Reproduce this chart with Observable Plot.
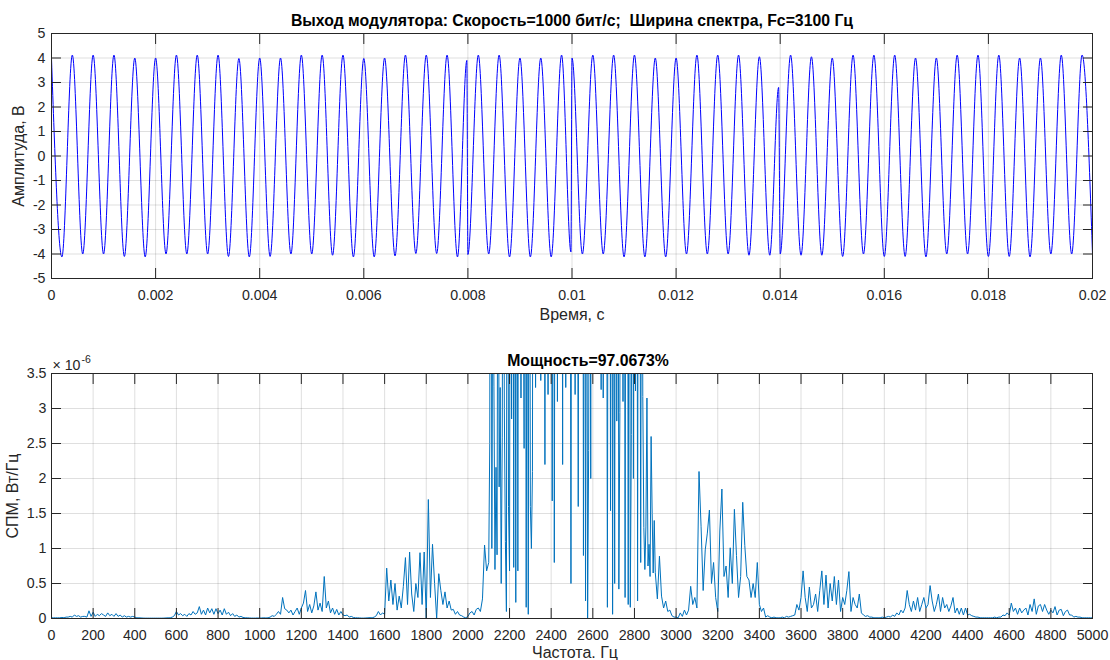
<!DOCTYPE html>
<html>
<head>
<meta charset="utf-8">
<script src="https://cdn.jsdelivr.net/npm/d3@7"></script>
<script src="https://cdn.jsdelivr.net/npm/@observablehq/plot@0.6"></script>
<style>
  html, body { margin: 0; padding: 0; background: #fff; }
  #chart { width: 1110px; height: 660px; background: #fff; }
  #chart svg { display: block; }
</style>
</head>
<body>
<div id="chart"></div>
<script>
// ---------- Texts ----------
const topTitle = "Выход модулятора: Скорость=1000 бит/с;\u00a0 Ширина спектра, Fc=3100 Гц";
const topXLabel = "Время, с";
const topYLabel = "Амплитуда, В";
const bottomTitle = "Мощность=97.0673%";
const bottomXLabel = "Частота. Гц";
const bottomYLabel = "СПМ, Вт/Гц";
const expBase = "\u00d7 10";
const expPower = "-6";

// ---------- Tick labels ----------
const timeTicks = [0, 0.002, 0.004, 0.006, 0.008, 0.01, 0.012, 0.014, 0.016, 0.018, 0.02];
const ampTicks = [-5, -4, -3, -2, -1, 0, 1, 2, 3, 4, 5];
const freqTicks = [0, 200, 400, 600, 800, 1000, 1200, 1400, 1600, 1800, 2000, 2200, 2400, 2600,
  2800, 3000, 3200, 3400, 3600, 3800, 4000, 4200, 4400, 4600, 4800, 5000];
const psdTicks = [0, 0.5, 1, 1.5, 2, 2.5, 3, 3.5];

// ---------- Modulator output: extrema (time, s / amplitude, V) ----------
const sigTime = [
  0, 0.0002, 0.0004, 0.0006, 0.0008, 0.001, 0.0012, 0.0014, 0.0016, 0.0018,
  0.002, 0.0022, 0.0024, 0.0026, 0.0028, 0.003, 0.0032, 0.0034, 0.0036, 0.0038,
  0.004, 0.0042, 0.0044, 0.0046, 0.0048, 0.005, 0.0052, 0.0054, 0.0056, 0.0058,
  0.006, 0.0062, 0.0064, 0.0066, 0.0068, 0.007, 0.0072, 0.0074, 0.0076, 0.0078,
  0.00798, 0.008, 0.0082, 0.0084, 0.0086, 0.0088, 0.009, 0.0092, 0.0094, 0.0096, 0.0098,
  0.00998, 0.01, 0.0102, 0.0104, 0.0106, 0.0108, 0.011, 0.0112, 0.0114, 0.0116, 0.0118,
  0.012, 0.0122, 0.0124, 0.0126, 0.0128, 0.013, 0.0132, 0.0134, 0.0136, 0.0138,
  0.01397, 0.014, 0.0142, 0.0144, 0.0146, 0.0148, 0.015, 0.0152, 0.0154, 0.0156, 0.0158,
  0.016, 0.0162, 0.0164, 0.0166, 0.0168, 0.017, 0.0172, 0.0174, 0.0176, 0.0178,
  0.018, 0.0182, 0.0184, 0.0186, 0.0188, 0.019, 0.0192, 0.0194, 0.0196, 0.0198, 0.02
];
const sigVolt = [
  3.97, -4.12, 4.12, -4.0, 4.12, -4.0, 4.12, -4.1, 4.0, -4.12,
  4.0, -4.0, 4.12, -4.0, 4.12, -4.0, 4.12, -4.1, 3.98, -4.12,
  4.0, -4.1, 4.0, -4.0, 4.12, -4.0, 4.12, -4.05, 4.12, -4.12,
  3.98, -4.12, 4.0, -4.08, 4.12, -3.98, 4.12, -3.98, 4.12, -4.12,
  3.9, -4.02, 4.12, -4.0, 4.12, -4.12, 4.0, -4.12, 4.0, -4.12, 4.12,
  -3.92, 4.0, -4.0, 4.12, -4.0, 4.12, -4.12, 4.12, -4.12, 4.0, -4.12,
  4.0, -4.0, 4.12, -4.0, 4.12, -4.0, 4.12, -4.05, 4.05, -4.05,
  2.8, -4.0, 4.12, -4.05, 4.05, -4.05, 4.0, -4.1, 4.12, -4.0, 4.12,
  -4.1, 4.12, -4.1, 4.0, -4.12, 4.0, -4.0, 4.12, -4.0, 4.12,
  -4.1, 4.12, -4.1, 4.0, -4.12, 4.0, -4.0, 4.12, -4.0, 4.12, -4.0
];

// ---------- PSD (x 1e-6 W/Hz) ----------
// 0 ... 2090 Hz, 10 Hz bins
const psdLowStart = 0, psdLowStep = 10;
const psdLow = [
  0.01,0.01,0.01,0.01,0.01,0.015,0.01,0.02,0.02,0.03,0.02,0.05,0.03,0.04,0.02,0.03,0.03,0.02,0.11,0.03,
  0.09,0.03,0.06,0.04,0.07,0.05,0.03,0.08,0.04,0.06,0.03,0.07,0.03,0.05,0.02,0.04,0.02,0.03,0.02,0.03,
  0.02,0.01,0.01,0.008,0.006,0.005,0.005,0.005,0.005,0.005,0.005,0.005,0.005,0.005,0.006,0.008,0.01,0.01,0.02,0.04,
  0.1,0.05,0.07,0.04,0.06,0.03,0.07,0.05,0.1,0.06,0.08,0.17,0.06,0.12,0.05,0.15,0.08,0.14,0.06,0.14,
  0.07,0.12,0.05,0.14,0.06,0.09,0.04,0.07,0.03,0.05,0.02,0.03,0.015,0.01,0.01,0.008,0.006,0.006,0.006,0.008,
  0.006,0.008,0.01,0.008,0.01,0.02,0.04,0.03,0.06,0.1,0.06,0.3,0.14,0.12,0.08,0.12,0.05,0.1,0.15,0.06,
  0.15,0.22,0.4,0.1,0.2,0.08,0.18,0.38,0.12,0.22,0.1,0.6,0.15,0.25,0.08,0.15,0.06,0.13,0.05,0.1,
  0.05,0.04,0.05,0.02,0.03,0.015,0.01,0.01,0.008,0.006,0.006,0.008,0.01,0.012,0.01,0.02,0.04,0.1,0.05,0.08,
  0.06,0.72,0.25,0.55,0.2,0.5,0.12,0.32,0.15,0.46,0.87,0.2,0.95,0.35,0.1,0.5,0.3,0.94,0.2,0.95,
  0.0,1.7,0.3,1.06,0.5,0.0,0.64,0.4,0.2,0.38,0.15,0.25,0.12,0.13,0.06,0.1,0.05,0.04,0.02,0.01,
  0.03,0.08,0.1,0.05,0.13,0.15,0.1,0.28,1.05,0.68
];
// 2100 ... 2900 Hz main lobe, 5 Hz bins (values above 3.5 are cut by the axes)
const psdLobeStart = 2100, psdLobeStep = 5;
const psdLobe = [
  0.8,2.5,15,1.0,6,3.32,0.7,2.16,0.91,8,1.88,3.3,0.5,2.58,9,3.0,1.1,0.1,12,1.6,
  0.68,10,2.85,12,0.73,9,0.23,11,0.68,14,7,3.15,10,6,2.43,11,0.16,8,0.06,10,
  1.6,1.0,2.1,12,20,3.3,14,9,16,10,3.4,13,18,9,2.2,11,15,3.2,12,16,
  10,1.68,14,0.8,9,12,3.1,10,13,8,11,2.2,14,9,3.3,15,10,12,9,0.5,
  11,14,9,3.2,15,8,1.6,11,14,9,12,0.9,10,0.25,8,0.0,2.4,9,2.0,13,
  9,16,11,14,10,15,12,9,3.27,14,3.15,11,12,9,0.16,10,13,1.54,11,0.06,
  8,0.5,12,2.82,10,0.42,2.94,13,9,3.1,12,0.3,10,14,0.2,11,0.16,2.63,9,2.0,
  12,3.25,14,0.25,11,8,0.8,9,3.17,1.3,0.7,1.32,3.15,0.75,1.06,0.6,2.6,1.5,0.65,1.4,
  0.66
];
// 2910 ... 5000 Hz, 10 Hz bins
const psdHighStart = 2910, psdHighStep = 10;
const psdHigh = [
  0.28,0.89,0.32,0.15,0.25,0.1,0.12,0.04,0.02,
  0.02,0.01,0.08,0.03,0.12,0.05,0.12,0.46,0.2,0.3,0.15,2.1,1.31,0.4,0.98,1.22,1.55,0.5,0.8,0.3,
  0.1,1.25,1.85,0.6,0.75,0.3,1.01,0.5,1.56,0.9,0.3,0.6,1.66,1.04,0.6,0.55,0.3,0.5,0.3,0.8,
  0.2,0.1,0.15,0.02,0.04,0.02,0.01,0.02,0.01,0.01,0.01,0.02,0.01,0.03,0.02,0.03,0.04,0.05,0.2,0.12,
  0.3,0.68,0.3,0.1,0.45,0.15,0.2,0.35,0.1,0.4,0.68,0.2,0.62,0.15,0.5,0.25,0.6,0.2,0.55,0.1,
  0.3,0.2,0.4,0.67,0.1,0.3,0.2,0.15,0.35,0.08,0.05,0.03,0.04,0.02,0.02,0.01,0.01,0.01,0.01,0.02,
  0.01,0.02,0.03,0.02,0.05,0.03,0.08,0.05,0.12,0.08,0.15,0.4,0.2,0.1,0.25,0.12,0.3,0.1,0.2,0.3,
  0.15,0.2,0.47,0.25,0.1,0.2,0.35,0.1,0.3,0.15,0.2,0.1,0.18,0.3,0.08,0.15,0.06,0.15,0.05,0.15,
  0.05,0.06,0.04,0.03,0.02,0.02,0.01,0.01,0.01,0.01,0.01,0.01,0.01,0.02,0.01,0.02,0.02,0.05,0.04,0.08,
  0.05,0.22,0.1,0.15,0.06,0.15,0.08,0.12,0.15,0.05,0.2,0.1,0.28,0.06,0.18,0.2,0.1,0.2,0.12,0.06,
  0.12,0.08,0.17,0.05,0.12,0.13,0.04,0.1,0.12,0.05,0.05,0.02,0.03,0.02,0.02,0.01,0.01,0.01,0.01,0.01,
  0.01
];

// ---------- Tables ----------
const signal = sigTime.map((t, i) => ({t, v: sigVolt[i]}));
const psd = [
  ...psdLow.map((p, i) => ({f: psdLowStart + i * psdLowStep, p})),
  ...psdLobe.map((p, i) => ({f: psdLobeStart + i * psdLobeStep, p})),
  ...psdHigh.map((p, i) => ({f: psdHighStart + i * psdHighStep, p}))
];

const FONT = "'Liberation Sans', Arial, Helvetica, sans-serif";
const AXIS_COLOR = "#262626";
const GRID = {stroke: "#262626", strokeOpacity: 0.15, strokeWidth: 1};
const TICK_FS = 14.2;
const LABEL_FS = 16;
const TITLE_FS = 15.8;
const fmt = d => String(d);

const topPlot = Plot.plot({
  width: 1110, height: 330,
  marginLeft: 51, marginRight: 18, marginTop: 33, marginBottom: 52,
  style: {fontFamily: FONT, fontSize: TICK_FS + "px", color: AXIS_COLOR, background: "#fff", overflow: "visible"},
  x: {domain: [0, 0.02], axis: null},
  y: {domain: [-5, 5], axis: null},
  marks: [
    Plot.gridX(timeTicks, GRID),
    Plot.gridY(ampTicks, GRID),
    Plot.line(signal, {x: "t", y: "v", stroke: "#0000ff", strokeWidth: 1, curve: "monotone-x", clip: true}),
    Plot.frame({stroke: AXIS_COLOR, strokeWidth: 1}),
    Plot.axisX(timeTicks, {anchor: "bottom", tickSize: -10, tickPadding: 21, tickFormat: fmt, label: null, fontSize: TICK_FS}),
    Plot.axisX(timeTicks, {anchor: "top", tickSize: -10, tickFormat: () => "", label: null}),
    Plot.axisY(ampTicks, {anchor: "left", tickSize: -10, tickPadding: 16, tickFormat: fmt, label: null, fontSize: TICK_FS}),
    Plot.axisY(ampTicks, {anchor: "right", tickSize: -10, tickFormat: () => "", label: null}),
    Plot.text([topTitle], {frameAnchor: "top", dy: -13, lineAnchor: "middle", textAnchor: "middle", fontWeight: "bold", fontSize: TITLE_FS, fill: "#000"}),
    Plot.text([topXLabel], {frameAnchor: "bottom", dy: 36, lineAnchor: "middle", textAnchor: "middle", fontSize: LABEL_FS, fill: AXIS_COLOR}),
    Plot.text([topYLabel], {frameAnchor: "left", dx: -33, rotate: -90, lineAnchor: "middle", textAnchor: "middle", fontSize: LABEL_FS, fill: AXIS_COLOR})
  ]
});

const bottomPlot = Plot.plot({
  width: 1110, height: 330,
  marginLeft: 51, marginRight: 18, marginTop: 43, marginBottom: 42,
  style: {fontFamily: FONT, fontSize: TICK_FS + "px", color: AXIS_COLOR, background: "#fff", overflow: "visible"},
  x: {domain: [0, 5000], axis: null},
  y: {domain: [0, 3.5], axis: null},
  marks: [
    Plot.gridX(freqTicks, GRID),
    Plot.gridY(psdTicks, GRID),
    Plot.line(psd, {x: "f", y: "p", stroke: "#0072BD", strokeWidth: 1, clip: true}),
    Plot.frame({stroke: AXIS_COLOR, strokeWidth: 1}),
    Plot.axisX(freqTicks, {anchor: "bottom", tickSize: -10, tickPadding: 21, tickFormat: fmt, label: null, fontSize: TICK_FS}),
    Plot.axisX(freqTicks, {anchor: "top", tickSize: -10, tickFormat: () => "", label: null}),
    Plot.axisY(psdTicks, {anchor: "left", tickSize: -10, tickPadding: 15, tickFormat: fmt, label: null, fontSize: TICK_FS}),
    Plot.axisY(psdTicks, {anchor: "right", tickSize: -10, tickFormat: () => "", label: null}),
    Plot.text([expBase], {frameAnchor: "top-left", dx: 1, dy: -8, lineAnchor: "middle", textAnchor: "start", fontSize: TICK_FS, fill: AXIS_COLOR}),
    Plot.text([expPower], {frameAnchor: "top-left", dx: 30, dy: -14, lineAnchor: "middle", textAnchor: "start", fontSize: 10.5, fill: AXIS_COLOR}),
    Plot.text([bottomTitle], {frameAnchor: "top", dx: 16, dy: -13, lineAnchor: "middle", textAnchor: "middle", fontWeight: "bold", fontSize: TITLE_FS, fill: "#000"}),
    Plot.text([bottomXLabel], {frameAnchor: "bottom", dx: 3, dy: 34, lineAnchor: "middle", textAnchor: "middle", fontSize: LABEL_FS, fill: AXIS_COLOR}),
    Plot.text([bottomYLabel], {frameAnchor: "left", dx: -39, rotate: -90, lineAnchor: "middle", textAnchor: "middle", fontSize: LABEL_FS, fill: AXIS_COLOR})
  ]
});

const chart = document.getElementById("chart");
chart.appendChild(topPlot);
chart.appendChild(bottomPlot);
</script>
</body>
</html>
